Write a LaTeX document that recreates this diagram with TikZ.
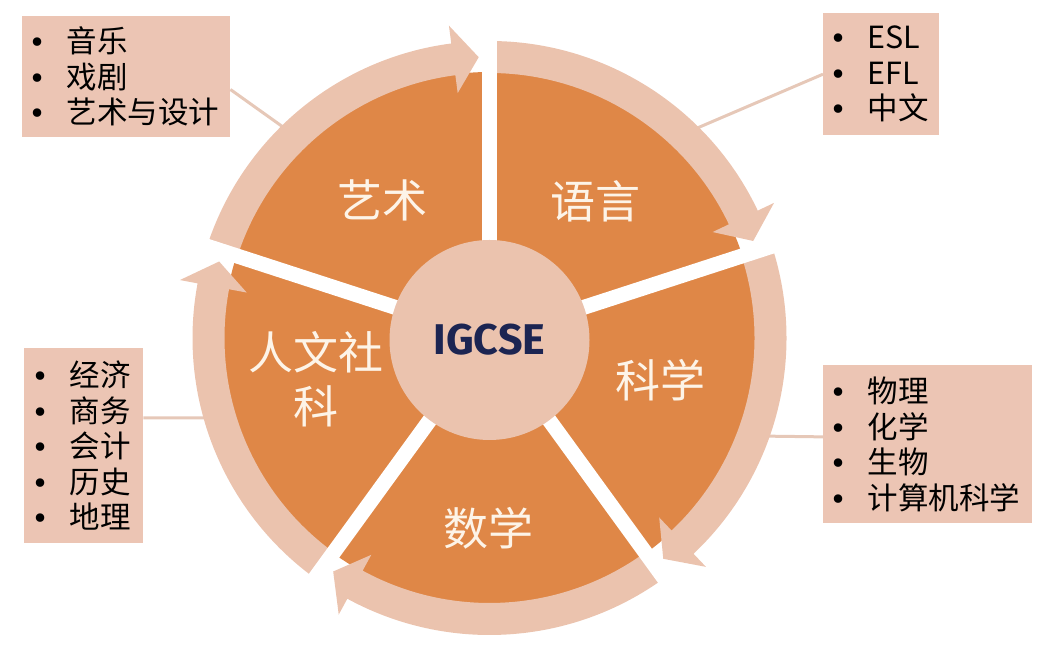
\documentclass[tikz,border=0pt]{standalone}
\usepackage{fontspec}
\setmainfont{Fira Sans}
\newfontfamily\cjk{Noto Sans CJK SC}
\definecolor{igcorange}{HTML}{DF8747}
\definecolor{igcpink}{HTML}{EBC3AE}
\definecolor{igcbox}{HTML}{ECC5B4}
\definecolor{igcline}{HTML}{E6C8B8}
\definecolor{igccream}{HTML}{FDF4E8}
\definecolor{igcnavy}{HTML}{1C2552}
\newcommand{\igcitem}[1]{\mbox{\makebox[0pt][c]{\normalfont\bfseries •}\hspace{29.5pt}#1}}
\begin{document}
\begin{tikzpicture}[x=1pt, y=1pt]
  \tikzstyle{igc_sector} = [fill = igcorange]
  \tikzstyle{igc_ring}   = [fill = igcpink]
  \tikzstyle{igc_gap}    = [draw = white, line width = 15pt]
  \tikzstyle{igc_link}   = [draw = igcline, line width = 3pt]
  \tikzstyle{igc_core}   = [shape = circle, fill = igcpink, minimum size = 200pt, inner sep = 0pt, text = igcnavy, font = \fontsize{43}{43}\selectfont\bfseries]
  \tikzstyle{igc_label}  = [text = igccream, align = center, font = \cjk\fontsize{45}{54}\selectfont]
  \tikzstyle{igc_list}   = [shape = rectangle, fill = igcbox, anchor = north west, align = left, inner ysep = 0pt, font = \cjk\fontsize{30.5}{35.5}\selectfont]

  \useasboundingbox (0,0) rectangle (1055,650);

  % subject lists
  \node[igc_list, inner xsep=15pt, text width=178pt, minimum height=121pt] (art_list) at (22, 634)
    {\igcitem{音乐}\\ \igcitem{戏剧}\\ \igcitem{艺术与设计}};
  \node[igc_list, inner xsep=15pt, text width=86pt, minimum height=122pt] (lang_list) at (823, 637)
    {\igcitem{ESL}\\ \igcitem{EFL}\\ \igcitem{中文}};
  \node[igc_list, inner xsep=16pt, text width=87pt, minimum height=195pt] (hum_list) at (24, 302)
    {\igcitem{经济}\\ \igcitem{商务}\\ \igcitem{会计}\\ \igcitem{历史}\\ \igcitem{地理}};
  \node[igc_list, inner xsep=15pt, text width=179pt, minimum height=158pt] (sci_list) at (823, 285)
    {\igcitem{物理}\\ \igcitem{化学}\\ \igcitem{生物}\\ \igcitem{计算机科学}};

  \coordinate (art_end)  at (290, 518);
  \coordinate (lang_end) at (688, 518);
  \coordinate (hum_end)  at (217, 232);
  \coordinate (sci_end)  at (756, 214);

  \draw[igc_link]
    (art_list.-7)    edge (art_end)
    (lang_list.west) edge (lang_end)
    (hum_list.25)    edge (hum_end)
    (sci_list.176)   edge (sci_end)
  ;

  % wheel
  \begin{scope}[shift={(489.5, 312)}]
    \foreach \g in {162, 90, 18, -54, -126} {
      \pgfmathsetmacro{\gend}{\g-72}
      \fill[igc_sector] (0,0) -- (\g:266pt) arc[start angle=\g, end angle=\gend, radius=266pt] -- cycle;
    }
    \foreach \g in {162, 90, 18, -54, -126} {
      \pgfmathsetmacro{\gtip}{\g-72+2.2}
      \pgfmathsetmacro{\gbase}{\g-72+7.4}
      \fill[igc_ring] (\g:297pt) arc[start angle=\g, end angle=\gbase, radius=297pt]
        -- (\gbase:315pt) -- (\gtip:281pt) -- (\gbase:247pt)
        -- (\gbase:265pt) arc[start angle=\gbase, end angle=\g, radius=265pt] -- cycle;
    }
    \foreach \g in {162, 90, 18, -54, -126}
      \draw[igc_gap] (0,0) -- (\g:330pt);
  \end{scope}

  \node[igc_core] (core) at (489.5, 310) {IGCSE};

  \node[igc_label] (art)  at (382, 450) {艺术};
  \node[igc_label] (lang) at (595, 449) {语言};
  \node[igc_label] (sci)  at (660, 270) {科学};
  \node[igc_label] (math) at (488, 122) {数学};
  \node[igc_label] (hum)  at (316, 271) {人文社\\科};
\end{tikzpicture}
\end{document}
